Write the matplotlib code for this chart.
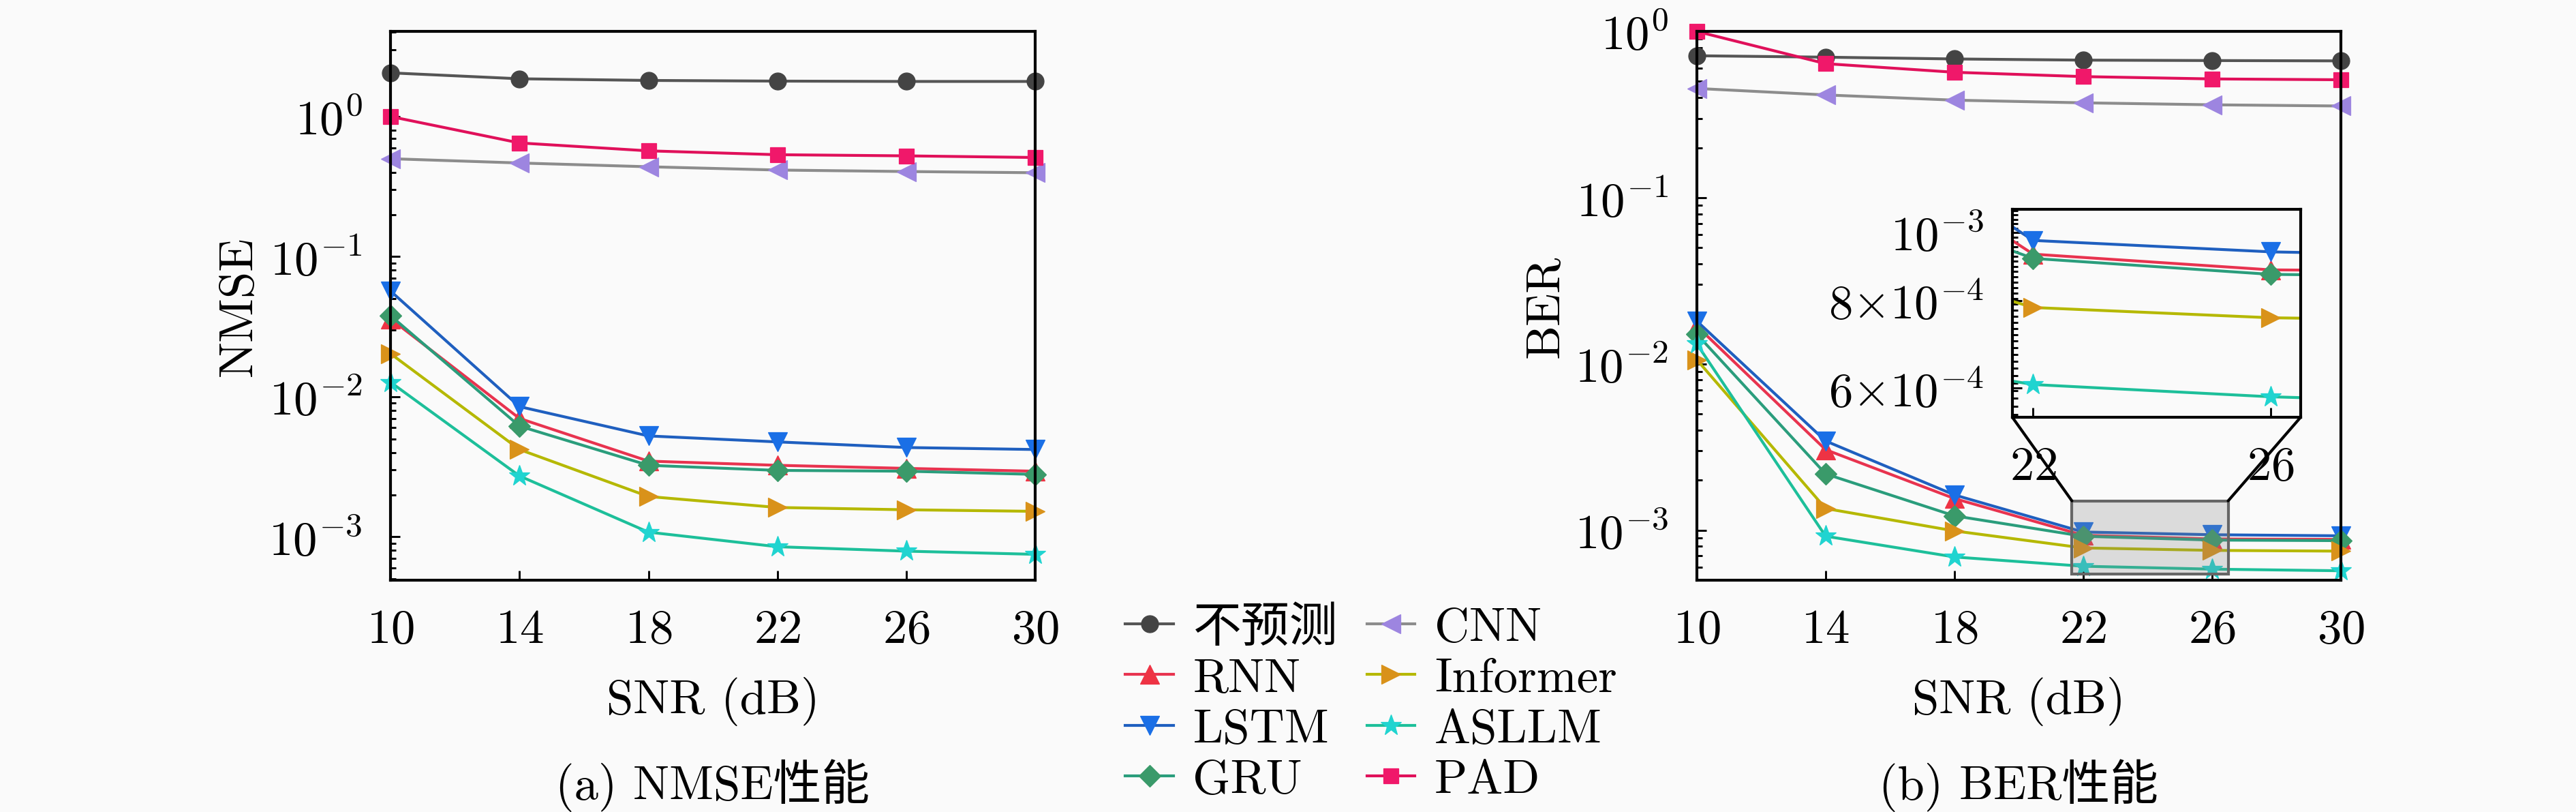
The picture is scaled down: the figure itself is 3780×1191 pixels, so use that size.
import numpy as np
import matplotlib
matplotlib.use('Agg')
import matplotlib.pyplot as plt
from matplotlib.ticker import FixedLocator, FixedFormatter, NullFormatter, LogLocator
from matplotlib.patches import Rectangle, ConnectionPatch

plt.rcParams['font.family'] = ['cmr10', 'Noto Sans CJK SC']
plt.rcParams['mathtext.fontset'] = 'cm'
plt.rcParams['axes.unicode_minus'] = False
plt.rcParams['axes.formatter.use_mathtext'] = True

# ---------------- data ----------------
snr = [10, 14, 18, 22, 26, 30]
series_names = ['不预测', 'RNN', 'LSTM', 'GRU', 'CNN', 'Informer', 'ASLLM', 'PAD']

nmse_none = [2.05, 1.86, 1.81, 1.79, 1.78, 1.78]
nmse_rnn = [0.036, 0.0070, 0.00347, 0.00324, 0.00308, 0.00294]
nmse_lstm = [0.0568, 0.0085, 0.00525, 0.00476, 0.00434, 0.0042]
nmse_gru = [0.0379, 0.00617, 0.00324, 0.00298, 0.00294, 0.00279]
nmse_cnn = [0.50, 0.466, 0.438, 0.415, 0.405, 0.397]
nmse_informer = [0.0203, 0.0042, 0.00194, 0.00162, 0.00156, 0.00152]
nmse_asllm = [0.0127, 0.00272, 0.00108, 0.00085, 0.00079, 0.00075]
nmse_pad = [1.0, 0.648, 0.569, 0.534, 0.524, 0.51]

ber_none = [0.714, 0.70, 0.683, 0.672, 0.668, 0.665]
ber_rnn = [0.0169, 0.00305, 0.00155, 0.000932, 0.000885, 0.00088]
ber_lstm = [0.0181, 0.00344, 0.00163, 0.000975, 0.000939, 0.000925]
ber_gru = [0.0151, 0.00218, 0.00122, 0.000919, 0.000872, 0.000865]
ber_cnn = [0.454, 0.415, 0.386, 0.372, 0.362, 0.356]
ber_informer = [0.0106, 0.00135, 0.00099, 0.000782, 0.000756, 0.000748]
ber_asllm = [0.0132, 0.00092, 0.00069, 0.000607, 0.000583, 0.000570]
ber_pad = [1.0, 0.64, 0.568, 0.535, 0.518, 0.512]

nmse_data = [nmse_none, nmse_rnn, nmse_lstm, nmse_gru, nmse_cnn, nmse_informer, nmse_asllm, nmse_pad]
ber_data = [ber_none, ber_rnn, ber_lstm, ber_gru, ber_cnn, ber_informer, ber_asllm, ber_pad]

inset_yticks = [6e-4, 8e-4, 1e-3]
inset_yticklabels = [r'$6{\times}10^{-4}$', r'$8{\times}10^{-4}$', r'$10^{-3}$']
inset_xticks = [22, 26]

# ---------------- styles ----------------
line_colors = ['#555555', '#e8334f', '#1f5fbf', '#2a9d7c', '#8c8c8c', '#b5b800', '#1dbf9a', '#e0105a']
marker_colors = ['#444444', '#ee3344', '#1a6fe6', '#3a9a6a', '#9d85e0', '#d9921a', '#20d4d0', '#f0186a']
markers = ['o', '^', 'v', 'D', '<', '>', '*', 's']
msizes = [6, 6.5, 6.5, 5.5, 6.5, 6.5, 7.5, 5.5]

FS = 17
BG = '#fafafa'

fig = plt.figure(figsize=(12.6, 3.9733), dpi=300)
fig.patch.set_facecolor(BG)

ax1 = fig.add_axes([0.1516, 0.2852, 0.2503, 0.6753])
ax2 = fig.add_axes([0.6587, 0.2852, 0.2500, 0.6753])


def style_axes(ax):
    ax.set_facecolor('none')
    for sp in ax.spines.values():
        sp.set_linewidth(1.0)
        sp.set_color('black')
    ax.tick_params(which='both', direction='in', top=False, right=False,
                   labelsize=FS, pad=10, width=0.7, color='black')
    ax.tick_params(which='major', length=3.3)
    ax.tick_params(which='minor', length=1.8)


def draw(ax, data, clip=False):
    handles = []
    for vals, name, lc, mc, m, ms in zip(data, series_names, line_colors,
                                         marker_colors, markers, msizes):
        h, = ax.plot(snr, vals, color=lc, lw=1.0, marker=m, markersize=ms,
                     markerfacecolor=mc, markeredgecolor=mc, markeredgewidth=0.3,
                     clip_on=clip, label=name)
        handles.append(h)
    return handles


handles = draw(ax1, nmse_data)
draw(ax2, ber_data)

for ax, ylab, ylim in [(ax1, 'NMSE', (4.9e-4, 4.05)), (ax2, 'BER', (5e-4, 1.0))]:
    ax.set_yscale('log')
    ax.set_xlim(10, 30)
    ax.set_ylim(*ylim)
    ax.set_xticks(snr)
    ax.yaxis.set_major_locator(LogLocator(base=10, numticks=10))
    ax.yaxis.set_minor_locator(LogLocator(base=10, subs=np.arange(2, 10), numticks=20))
    ax.yaxis.set_minor_formatter(NullFormatter())
    style_axes(ax)
    ax.set_xlabel('SNR (dB)', fontsize=FS)
    ax.set_ylabel(ylab, fontsize=FS)
    ax.yaxis.set_label_coords(-0.20, 0.5)
    ax.xaxis.set_label_coords(0.5, -0.175)

# ---------------- inset ----------------
axins = fig.add_axes([0.7812, 0.4857, 0.1119, 0.2559])
draw(axins, ber_data, clip=True)
axins.set_yscale('log')
axins.set_xlim(21.65, 26.5)
axins.set_ylim(5.45e-4, 1.08e-3)
axins.set_xticks(inset_xticks)
axins.yaxis.set_major_locator(FixedLocator(inset_yticks))
axins.yaxis.set_major_formatter(FixedFormatter(inset_yticklabels))
axins.yaxis.set_minor_locator(FixedLocator(np.arange(5.5e-4, 1.08e-3, 1.5e-5)))
axins.yaxis.set_minor_formatter(NullFormatter())
axins.xaxis.set_minor_locator(FixedLocator([]))
style_axes(axins)

rect = Rectangle((21.65, 5.45e-4), 26.5 - 21.65, 1.5e-3 - 5.45e-4,
                 facecolor=(0.5, 0.5, 0.5, 0.25), edgecolor='#666666',
                 lw=1.0, zorder=6, clip_on=False)
ax2.add_patch(rect)
for xa, xb in [(21.65, 0), (26.5, 1)]:
    con = ConnectionPatch(xyA=(xa, 1.5e-3), coordsA=ax2.transData,
                          xyB=(xb, 0), coordsB=axins.transAxes,
                          color='black', lw=1.0)
    fig.add_artist(con)

# ---------------- legend & captions ----------------
fig.legend(handles=handles, labels=series_names, ncol=2, loc='center',
           bbox_to_anchor=(2012 / 3780, 1 - 1034 / 1192), frameon=False,
           fontsize=FS, handlelength=1.0, handletextpad=0.4,
           columnspacing=0.6, labelspacing=0.15)

fig.text(1046 / 3780, 1 - 1173 / 1192, '(a) NMSE性能', ha='center', va='baseline', fontsize=FS)
fig.text(2962 / 3780, 1 - 1173 / 1192, '(b) BER性能', ha='center', va='baseline', fontsize=FS)

fig.savefig('out.png', dpi=300, facecolor=BG)
